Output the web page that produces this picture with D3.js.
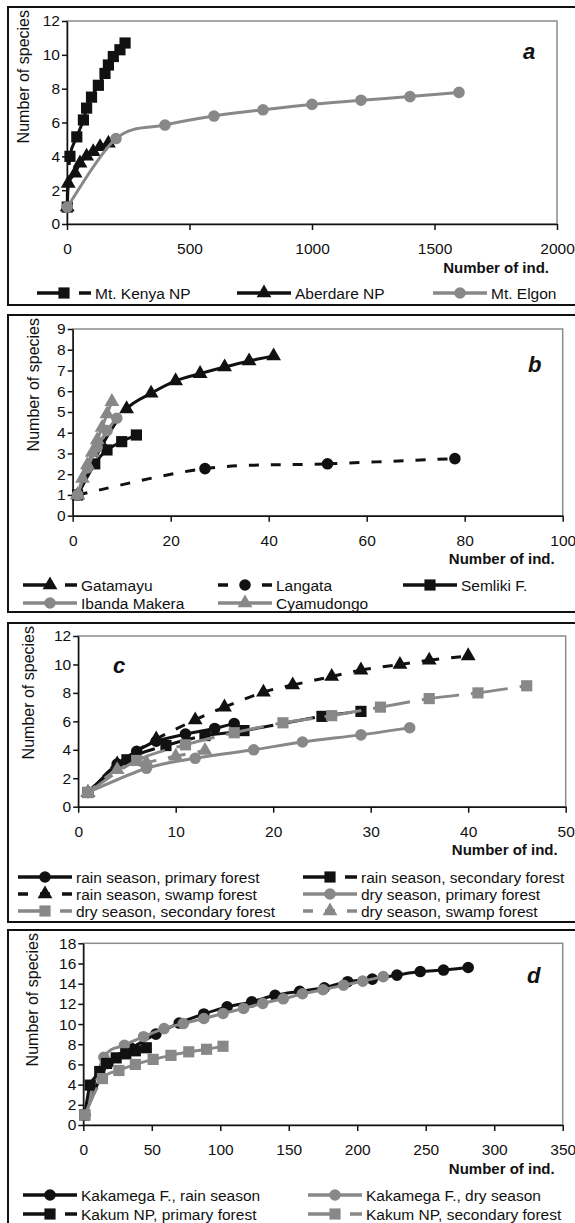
<!DOCTYPE html>
<html>
<head>
<meta charset="utf-8">
<script src="https://cdn.jsdelivr.net/npm/d3@7"></script>
<style>
body { margin: 0; background: #fff; }
text { font-family: Arial, "Liberation Sans", sans-serif; }
</style>
</head>
<body>
<svg id="chart" width="575" height="1223"></svg>
<script>
// ---- panel a
var kenyaInd = [1, 12, 40, 67, 80, 100, 128, 155, 169, 189, 216, 237]
var kenyaSp = [1, 4, 5.15, 6.15, 6.85, 7.5, 8.2, 8.9, 9.4, 9.9, 10.3, 10.7]
var aberdareInd = [1, 5, 33, 53, 80, 107, 135, 169]
var aberdareSp = [1, 2.4, 3.0, 3.6, 4.0, 4.27, 4.57, 4.77]
var elgonInd = [1, 200, 400, 600, 800, 1000, 1200, 1400, 1600]
var elgonSp = [1, 5.05, 5.85, 6.38, 6.75, 7.07, 7.32, 7.53, 7.78]

// ---- panel b
var gatamayuInd = [1, 6, 11, 16, 21, 26, 31, 36, 41]
var gatamayuSp = [1, 3.4, 5.15, 5.9, 6.5, 6.85, 7.17, 7.46, 7.7]
var langataInd = [1, 27, 52, 78]
var langataSp = [1, 2.27, 2.5, 2.75]
var semlikiInd = [1, 4.5, 7, 10, 13]
var semlikiSp = [1, 2.5, 3.17, 3.57, 3.89]
var ibandaInd = [1, 3, 5, 7, 9]
var ibandaSp = [1, 2.3, 3.3, 4.1, 4.7]
var cyamudongoInd = [1, 2, 3, 4, 5, 6, 7, 8]
var cyamudongoSp = [1, 1.8, 2.45, 3.05, 3.65, 4.25, 4.9, 5.5]

// ---- panel c
var rainPrimInd = [1, 4, 6, 8, 11, 14, 16]
var rainPrimSp = [1, 3.0, 3.9, 4.6, 5.1, 5.5, 5.85]
var rainSecInd = [1, 5, 9, 13, 17, 25, 29]
var rainSecSp = [1, 3.3, 4.3, 5.0, 5.35, 6.35, 6.7]
var rainSwampInd = [1, 4, 8, 12, 15, 19, 22, 26, 29, 33, 36, 40]
var rainSwampSp = [1, 3.0, 4.75, 6.1, 7.0, 8.05, 8.55, 9.15, 9.6, 10.0, 10.3, 10.6]
var dryPrimInd = [1, 7, 12, 18, 23, 29, 34]
var dryPrimSp = [1, 2.7, 3.4, 4.0, 4.55, 5.05, 5.55]
var drySecInd = [1, 6, 11, 16, 21, 26, 31, 36, 41, 46]
var drySecSp = [1, 3.25, 4.35, 5.2, 5.9, 6.4, 7.0, 7.6, 8.0, 8.5]
var drySwampInd = [1, 4, 7, 10, 13]
var drySwampSp = [1, 2.6, 3.1, 3.55, 3.95]

// ---- panel d
var kakaRainInd = [1, 18, 35, 53, 70, 88, 105, 123, 140, 158, 176, 193, 211, 229, 246, 263, 281]
var kakaRainSp = [1, 6.1, 7.6, 9.0, 10.1, 11.0, 11.7, 12.2, 12.85, 13.25, 13.6, 14.2, 14.45, 14.85, 15.2, 15.35, 15.6]
var kakaDryInd = [1, 15, 30, 44, 59, 73, 88, 102, 117, 131, 146, 160, 175, 190, 204, 219]
var kakaDrySp = [1, 6.7, 7.9, 8.75, 9.55, 10.05, 10.55, 11.05, 11.55, 12.05, 12.5, 13.0, 13.4, 13.85, 14.25, 14.7]
var kakumPrimInd = [1, 5, 12, 17, 24, 31, 38, 46]
var kakumPrimSp = [1, 3.95, 5.3, 6.1, 6.65, 7.05, 7.35, 7.65]
var kakumSecInd = [1, 14, 26, 38, 51, 64, 77, 90, 102]
var kakumSecSp = [1, 4.6, 5.4, 6.0, 6.5, 6.9, 7.25, 7.5, 7.8]

// ---- axis ticks
var aTicksX = [0, 500, 1000, 1500, 2000]
var aTicksY = [0, 2, 4, 6, 8, 10, 12]
var bTicksX = [0, 20, 40, 60, 80, 100]
var bTicksY = [0, 1, 2, 3, 4, 5, 6, 7, 8, 9]
var cTicksX = [0, 10, 20, 30, 40, 50]
var cTicksY = [0, 2, 4, 6, 8, 10, 12]
var dTicksX = [0, 50, 100, 150, 200, 250, 300, 350]
var dTicksY = [0, 2, 4, 6, 8, 10, 12, 14, 16, 18]

var black = "#111"
var grey = "#888"

var dashes = { solid: null, long: "30,12", short: "10,12" }
var symbols = {
    square: d3.symbol().type(d3.symbolSquare).size(125)(),
    circle: d3.symbol().type(d3.symbolCircle).size(105)(),
    triangle: d3.symbol().type(d3.symbolTriangle).size(95)()
}

var panels = [
    { label: "a", box: [7, 305], plot: { l: 67, r: 557, t: 21, b: 224 }, xMax: 2000, yMax: 12,
      ticksX: aTicksX, ticksY: aTicksY, yTitleX: 29, labelPos: [523, 59],
      legendCols: [37, 237, 433], legendRows: [293],
      series: [
        { name: "Mt. Kenya NP", x: kenyaInd, y: kenyaSp, color: black, marker: "square", dash: "long" },
        { name: "Aberdare NP", x: aberdareInd, y: aberdareSp, color: black, marker: "triangle", dash: "solid" },
        { name: "Mt. Elgon", x: elgonInd, y: elgonSp, color: grey, marker: "circle", dash: "solid" }
      ] },
    { label: "b", box: [315, 612], plot: { l: 72.7, r: 562.7, t: 329, b: 515.7 }, xMax: 100, yMax: 9,
      ticksX: bTicksX, ticksY: bTicksY, yTitleX: 39, labelPos: [528, 372],
      legendCols: [23, 218, 403], legendRows: [585, 603],
      series: [
        { name: "Gatamayu", x: gatamayuInd, y: gatamayuSp, color: black, marker: "triangle", dash: "long" },
        { name: "Langata", x: langataInd, y: langataSp, color: black, marker: "circle", dash: "short" },
        { name: "Semliki F.", x: semlikiInd, y: semlikiSp, color: black, marker: "square", dash: "solid" },
        { name: "Ibanda Makera", x: ibandaInd, y: ibandaSp, color: grey, marker: "circle", dash: "solid" },
        { name: "Cyamudongo", x: cyamudongoInd, y: cyamudongoSp, color: grey, marker: "triangle", dash: "solid" }
      ] },
    { label: "c", box: [623, 922], plot: { l: 78.2, r: 565.7, t: 636, b: 806.7 }, xMax: 50, yMax: 12,
      ticksX: cTicksX, ticksY: cTicksY, yTitleX: 34, labelPos: [113, 673],
      legendCols: [18, 303], legendRows: [877, 894, 911],
      series: [
        { name: "rain season, primary forest", x: rainPrimInd, y: rainPrimSp, color: black, marker: "circle", dash: "solid" },
        { name: "rain season, secondary forest", x: rainSecInd, y: rainSecSp, color: black, marker: "square", dash: "long" },
        { name: "rain season, swamp forest", x: rainSwampInd, y: rainSwampSp, color: black, marker: "triangle", dash: "short" },
        { name: "dry season, primary forest", x: dryPrimInd, y: dryPrimSp, color: grey, marker: "circle", dash: "solid" },
        { name: "dry season, secondary forest", x: drySecInd, y: drySecSp, color: grey, marker: "square", dash: "long" },
        { name: "dry season, swamp forest", x: drySwampInd, y: drySwampSp, color: grey, marker: "triangle", dash: "short" }
      ] },
    { label: "d", box: [930, 1232], plot: { l: 83.3, r: 562.7, t: 943.3, b: 1125 }, xMax: 350, yMax: 18,
      ticksX: dTicksX, ticksY: dTicksY, yTitleX: 38, labelPos: [527, 983],
      legendCols: [23, 308], legendRows: [1195, 1214],
      series: [
        { name: "Kakamega F., rain season", x: kakaRainInd, y: kakaRainSp, color: black, marker: "circle", dash: "solid" },
        { name: "Kakamega F., dry season", x: kakaDryInd, y: kakaDrySp, color: grey, marker: "circle", dash: "solid" },
        { name: "Kakum NP, primary forest", x: kakumPrimInd, y: kakumPrimSp, color: black, marker: "square", dash: "long" },
        { name: "Kakum NP, secondary forest", x: kakumSecInd, y: kakumSecSp, color: grey, marker: "square", dash: "long" }
      ] }
]

var svg = d3.select("#chart")

panels.forEach(function(p) {
    var g = svg.append("g")

    // outer frame of the panel
    g.append("rect")
        .attr("x", 8).attr("y", p.box[0])
        .attr("width", 580).attr("height", p.box[1] - p.box[0])
        .attr("fill", "none").attr("stroke", black).attr("stroke-width", 2)

    var x = d3.scaleLinear().domain([0, p.xMax]).range([p.plot.l, p.plot.r])
    var y = d3.scaleLinear().domain([0, p.yMax]).range([p.plot.b, p.plot.t])

    // grey plot-area border
    g.append("rect")
        .attr("x", p.plot.l).attr("y", p.plot.t)
        .attr("width", p.plot.r - p.plot.l).attr("height", p.plot.b - p.plot.t)
        .attr("fill", "none").attr("stroke", "#8c8c8c").attr("stroke-width", 1.5)

    var xAxis = g.append("g")
        .attr("transform", "translate(0," + p.plot.b + ")")
        .call(d3.axisBottom(x).tickValues(p.ticksX).tickFormat(d3.format("d"))
            .tickSize(6).tickSizeOuter(0).tickPadding(13))
    var yAxis = g.append("g")
        .attr("transform", "translate(" + p.plot.l + ",0)")
        .call(d3.axisLeft(y).tickValues(p.ticksY).tickFormat(d3.format("d"))
            .tickSize(5).tickSizeOuter(0).tickPadding(2))
    ;[xAxis, yAxis].forEach(function(a) {
        a.selectAll("path, line").attr("stroke", black).attr("stroke-width", 1.5)
        a.selectAll("text").attr("font-size", 15.5).attr("fill", black)
            .style("font-family", "Arial, 'Liberation Sans', sans-serif")
    })

    // axis titles
    g.append("text")
        .attr("transform", "translate(" + p.yTitleX + "," + (p.box[0] + 3) + ") rotate(-90)")
        .attr("text-anchor", "end")
        .attr("font-size", 16)
        .attr("fill", black)
        .text("Number of species")
    g.append("text")
        .attr("x", p.plot.r - 8).attr("y", p.plot.b + 48.5)
        .attr("text-anchor", "end")
        .attr("font-size", 15).attr("font-weight", "bold")
        .attr("fill", black)
        .text("Number of ind.")

    // panel letter
    g.append("text")
        .attr("x", p.labelPos[0]).attr("y", p.labelPos[1])
        .attr("font-size", 22).attr("font-weight", "bold").attr("font-style", "italic")
        .attr("fill", black)
        .text(p.label)

    // series
    p.series.forEach(function(s) {
        drawSeries(g, s, x, y)
    })

    // legend
    p.series.forEach(function(s, i) {
        var col = i % p.legendCols.length
        var row = Math.floor(i / p.legendCols.length)
        var lx = p.legendCols[col]
        var ly = p.legendRows[row]
        var lg = g.append("g")
        lg.append("line")
            .attr("x1", lx).attr("x2", lx + 54).attr("y1", ly).attr("y2", ly)
            .attr("stroke", s.color).attr("stroke-width", 3.5)
            .attr("stroke-dasharray", dashes[s.dash])
        lg.append("path")
            .attr("transform", "translate(" + (lx + 27) + "," + ly + ")")
            .attr("d", symbols[s.marker])
            .attr("fill", s.color)
        lg.append("text")
            .attr("x", lx + 58).attr("y", ly + 5.5)
            .attr("font-size", 15.5).attr("fill", black)
            .text(s.name)
    })
})

// each segment is its own path so the dash pattern restarts at every point, like the original
function drawSeries(g, s, x, y) {
    var pts = s.x.map(function(v, i) { return [x(v), y(s.y[i])] })
    var n = pts.length
    for (var i = 0; i < n - 1; i++) {
        var p0 = pts[Math.max(i - 1, 0)]
        var p1 = pts[i]
        var p2 = pts[i + 1]
        var p3 = pts[Math.min(i + 2, n - 1)]
        var path = d3.path()
        path.moveTo(p1[0], p1[1])
        path.bezierCurveTo(
            p1[0] + (p2[0] - p0[0]) / 6, p1[1] + (p2[1] - p0[1]) / 6,
            p2[0] - (p3[0] - p1[0]) / 6, p2[1] - (p3[1] - p1[1]) / 6,
            p2[0], p2[1])
        g.append("path")
            .attr("d", path.toString())
            .attr("fill", "none")
            .attr("stroke", s.color)
            .attr("stroke-width", 3)
            .attr("stroke-dasharray", dashes[s.dash])
    }
    g.append("g").selectAll("path")
        .data(pts)
        .enter().append("path")
        .attr("transform", function(d) { return "translate(" + d[0] + "," + d[1] + ")" })
        .attr("d", symbols[s.marker])
        .attr("fill", s.color)
}
</script>
</body>
</html>
